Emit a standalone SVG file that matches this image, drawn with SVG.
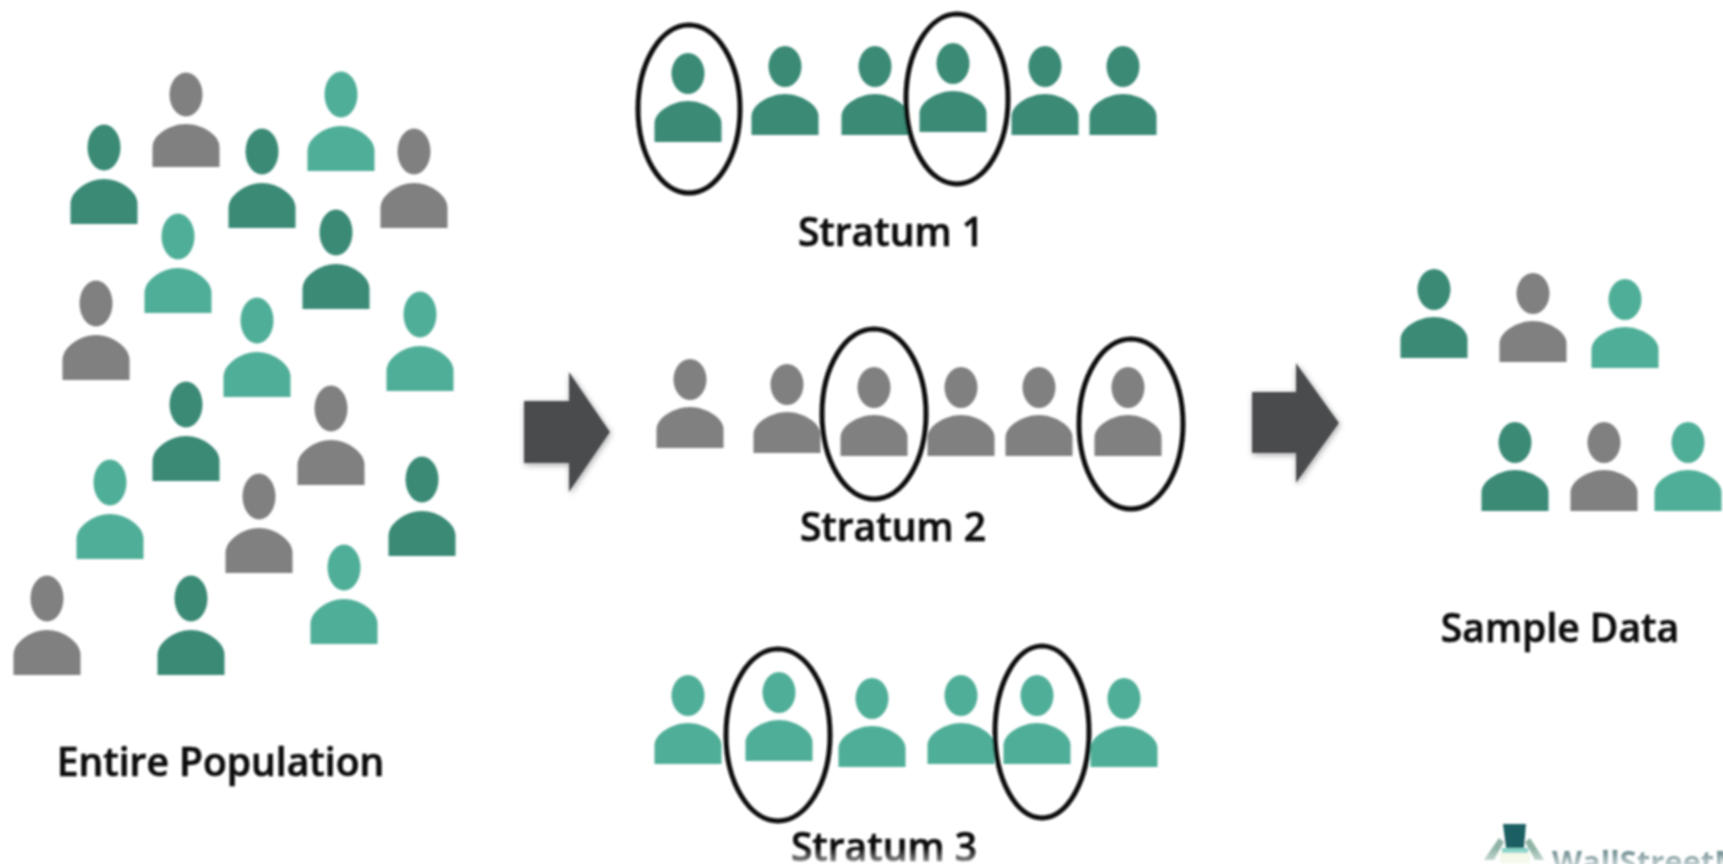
<svg xmlns="http://www.w3.org/2000/svg" width="1723" height="864" viewBox="0 0 1723 864">
<style>
.d{fill:#3a8a76}.g{fill:#808080}.l{fill:#50ae98}
.o{fill:none;stroke:#0c0c0c;stroke-width:5}
.t{font-family:"Open Sans","Liberation Sans",sans-serif;font-weight:600;font-size:39px;fill:#111;stroke:#111;stroke-width:.7;text-anchor:middle}
.a{fill:#484c4d;filter:url(#s)}
</style>
<defs>
<symbol id="p" overflow="visible" viewBox="0 0 1 1" width="1" height="1">
<ellipse cx="0" cy="-76.500" rx="16.500" ry="23"/>
<path d="M-33.500 0V-20C-33.500-33-16-45 0-45S33.500-33 33.500-20V0Z"/>
</symbol>
<symbol id="r" overflow="visible" viewBox="0 0 1 1" width="1" height="1">
<ellipse cx="0" cy="-72.500" rx="16.500" ry="22"/>
<path d="M-33.500 0V-20C-33.500-32-16-43 0-43S33.500-32 33.500-20V0Z"/>
</symbol>
<symbol id="q" overflow="visible" viewBox="0 0 1 1" width="1" height="1">
<ellipse cx="0" cy="-68.500" rx="16.500" ry="20.500"/>
<path d="M-33.500 0V-19C-33.500-30-16-41 0-41S33.500-30 33.500-19V0Z"/>
</symbol>
<linearGradient id="f" x1="0" y1="0" x2="0" y2="1"><stop offset="0" stop-color="#fff" stop-opacity="0"/><stop offset="1" stop-color="#fff" stop-opacity=".6"/></linearGradient>
<filter id="b" x="-5%" y="-5%" width="110%" height="110%"><feGaussianBlur stdDeviation="0.8"/></filter>
<filter id="w" x="-10%" y="-30%" width="120%" height="160%"><feGaussianBlur stdDeviation="1.3"/></filter>
<filter id="s" x="-20%" y="-20%" width="140%" height="140%"><feDropShadow dx="1" dy="2" stdDeviation="3" flood-color="#000" flood-opacity=".35"/></filter>
</defs>
<rect width="1723" height="864" fill="#fff"/>
<g filter="url(#b)" transform="translate(1 0)">
<g id="population">
<use href="#p" x="103" y="224" class="d"/><use href="#r" x="185" y="167" class="g"/><use href="#p" x="340" y="171" class="l"/>
<use href="#p" x="261" y="228" class="d"/><use href="#p" x="413" y="228" class="g"/><use href="#p" x="177" y="313" class="l"/>
<use href="#p" x="335" y="309" class="d"/><use href="#p" x="95" y="380" class="g"/><use href="#p" x="256" y="397" class="l"/>
<use href="#p" x="419" y="391" class="l"/><use href="#p" x="185" y="481" class="d"/><use href="#p" x="330" y="485" class="g"/>
<use href="#p" x="109" y="559" class="l"/><use href="#p" x="258" y="573" class="g"/><use href="#p" x="421" y="556" class="d"/>
<use href="#p" x="46" y="675" class="g"/><use href="#p" x="190" y="675" class="d"/><use href="#p" x="343" y="644" class="l"/>
<text class="t" x="219.500" y="776">Entire Population</text>
</g>
<g id="stratum1">
<use href="#q" x="687" y="142" class="d"/><use href="#q" x="784" y="135" class="d"/><use href="#q" x="874" y="135" class="d"/>
<use href="#q" x="952" y="132" class="d"/><use href="#q" x="1044" y="135" class="d"/><use href="#q" x="1122" y="135" class="d"/>
<ellipse class="o" cx="688" cy="109" rx="51" ry="84"/><ellipse class="o" cx="956" cy="99" rx="51" ry="85"/>
<text class="t" x="890" y="246">Stratum 1</text>
</g>
<g id="stratum2">
<use href="#q" x="689" y="448" class="g"/><use href="#q" x="786" y="453" class="g"/><use href="#q" x="873" y="456" class="g"/>
<use href="#q" x="960" y="456" class="g"/><use href="#q" x="1038" y="456" class="g"/><use href="#q" x="1127" y="456" class="g"/>
<ellipse class="o" cx="873" cy="414" rx="52" ry="85"/><ellipse class="o" cx="1130" cy="424" rx="52" ry="85"/>
<text class="t" x="892" y="541">Stratum 2</text>
</g>
<g id="stratum3">
<use href="#q" x="687" y="764" class="l"/><use href="#q" x="778" y="761" class="l"/><use href="#q" x="871" y="767" class="l"/>
<use href="#q" x="960" y="764" class="l"/><use href="#q" x="1036" y="764" class="l"/><use href="#q" x="1123" y="767" class="l"/>
<ellipse class="o" cx="777" cy="735" rx="52" ry="86"/><ellipse class="o" cx="1041" cy="732" rx="47" ry="86"/>
<text class="t" x="883" y="861">Stratum 3</text>
</g>
<g id="sample">
<use href="#q" x="1433" y="358" class="d"/><use href="#q" x="1532" y="362" class="g"/><use href="#q" x="1624" y="368" class="l"/>
<use href="#q" x="1514" y="511" class="d"/><use href="#q" x="1603" y="511" class="g"/><use href="#q" x="1687" y="511" class="l"/>
<text class="t" x="1559" y="642">Sample Data</text>
</g>
<g id="connectors">
<path class="a" d="M523 401H568V372L609 432L568 492V463H523Z"/>
<path class="a" d="M1251 392H1295V363L1338 423L1295 483V453H1251Z"/>
</g>
</g>
<g id="watermark" filter="url(#w)">
<path d="M1484 860L1499 838L1504 842L1494 860ZM1544 860L1530 838L1525 842L1535 860Z" fill="#8fb3a5"/>
<path d="M1503 824H1526L1524 848H1506Z" fill="#1f5f62"/>
<path d="M1502 848H1528V853H1502Z" fill="#7fd0c4"/>
<path d="M1500 853H1530V864H1500Z" fill="#eef6df"/>
<text x="1552" y="873" font-family="'Open Sans','Liberation Sans',sans-serif" font-weight="700" font-size="31" fill="#5c7f82">WallStreetM</text>
</g>
<rect x="700" y="848" width="1023" height="16" fill="url(#f)"/>
</svg>
